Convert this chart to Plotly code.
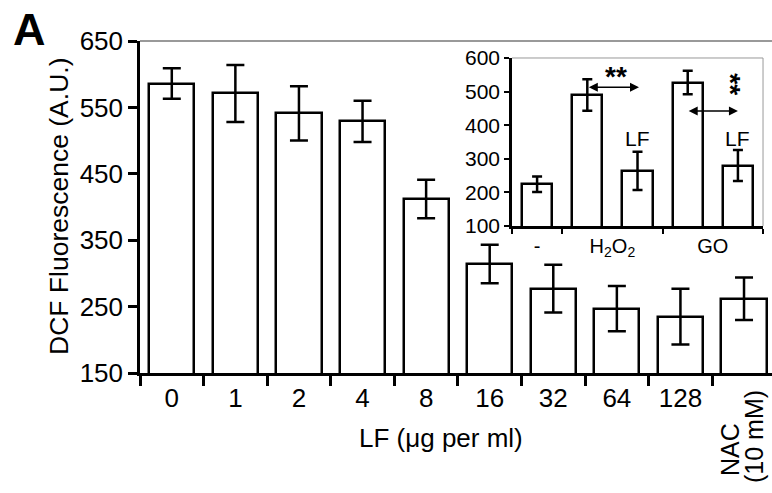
import plotly.graph_objects as go

# ---- data ----
lf_labels = ["0", "1", "2", "4", "8", "16", "32", "64", "128", "NAC"]
lf_means = [586, 571, 541, 529, 412, 314, 277, 247, 235, 262]
lf_err = [23, 43, 41, 31, 29, 29, 36, 34, 42, 32]
nac_lines = ["NAC", "(10 mM)"]

inset_bars = ["-", "H2O2", "H2O2+LF", "GO", "GO+LF"]
inset_group_of_bar = [0, 1, 1, 2, 2]
inset_groups = ["-", "H<sub>2</sub>O<sub>2</sub>", "GO"]
inset_means = [224, 490, 264, 527, 280]
inset_err = [23, 47, 57, 35, 46]
inset_lf_marks = [2, 4]

y_main_ticks = [150, 250, 350, 450, 550, 650]
y_inset_ticks = [100, 200, 300, 400, 500, 600]

FONT = "Liberation Sans, Arial, sans-serif"
W, H = 772, 493
ML, MR, MT, MB = 140, 0, 41, 120
PW, PH = W - ML - MR, H - MT - MB


def px_x(x):
    return (x - ML) / PW


def px_y(y):
    return (H - MB - y) / PH


fig = go.Figure()

fig.add_trace(go.Bar(
    x=lf_labels, y=lf_means, width=0.71,
    marker=dict(color="white", line=dict(color="black", width=2.5)),
    error_y=dict(type="data", array=lf_err, color="black", thickness=2.5, width=9),
    xaxis="x", yaxis="y", showlegend=False,
))

inset_x = list(range(len(inset_bars)))
fig.add_trace(go.Bar(
    x=inset_x, y=inset_means, width=0.6,
    marker=dict(color="white", line=dict(color="black", width=2.5)),
    error_y=dict(type="data", array=inset_err, color="black", thickness=2.5, width=5),
    xaxis="x2", yaxis="y2", showlegend=False,
))

# group centers and boundaries for inset
centers = []
bounds = [-0.5]
for g in range(len(inset_groups)):
    xs = [x for x, gg in zip(inset_x, inset_group_of_bar) if gg == g]
    centers.append(sum(xs) / len(xs))
    bounds.append(max(xs) + 0.5)

tickvals_main = lf_labels
ticktext_main = lf_labels[:-1] + [" "]

fig.update_layout(
    width=W, height=H,
    margin=dict(l=ML, r=MR, t=MT, b=MB),
    paper_bgcolor="white", plot_bgcolor="white",
    font=dict(family=FONT, color="black"),
    bargap=0,
    xaxis=dict(
        type="category", range=[-0.5, 9.44], domain=[0, 1],
        tickmode="array", tickvals=tickvals_main, ticktext=ticktext_main,
        tickson="boundaries", ticks="outside", ticklen=10, tickwidth=2.5, tickcolor="black",
        showline=True, linecolor="black", linewidth=2.5,
        showgrid=False, zeroline=False,
        tickfont=dict(size=26, family=FONT, color="black"),
    ),
    yaxis=dict(
        range=[150, 650], domain=[0, 1],
        tickmode="array", tickvals=y_main_ticks,
        ticks="outside", ticklen=9, tickwidth=2.5, tickcolor="black",
        showline=True, linecolor="black", linewidth=2.5,
        showgrid=False, zeroline=False,
        tickfont=dict(size=26, family=FONT, color="black"),
    ),
    xaxis2=dict(
        anchor="y2", domain=[0.5886, 0.9858], range=[-0.5, 4.5],
        tickmode="array", tickvals=centers, ticktext=inset_groups, ticks="",
        minor=dict(tickmode="array", tickvals=bounds, ticks="outside", ticklen=5,
                   tickwidth=2, tickcolor="black"),
        showline=True, linecolor="black", linewidth=2.5,
        showgrid=False, zeroline=False,
        tickfont=dict(size=20, family=FONT, color="black"),
    ),
    yaxis2=dict(
        anchor="x2", domain=[0.4428, 0.9488], range=[100, 600],
        tickmode="array", tickvals=y_inset_ticks,
        ticks="outside", ticklen=5, tickwidth=2, tickcolor="black",
        showline=True, linecolor="black", linewidth=2.5,
        showgrid=False, zeroline=False,
        tickfont=dict(size=21, family=FONT, color="black"),
    ),
)

# thin grey frame lines
fig.add_shape(type="line", xref="paper", yref="paper", x0=0, x1=1, y0=1, y1=1,
              line=dict(color="#777777", width=1.5))
fig.add_shape(type="line", xref="x2 domain", yref="y2 domain", x0=0, x1=1, y0=1, y1=1,
              line=dict(color="#999999", width=1))
fig.add_shape(type="line", xref="x2 domain", yref="y2 domain", x0=1, x1=1, y0=0, y1=1,
              line=dict(color="#999999", width=1))

ann = []
# Panel letter
ann.append(dict(text="<b>A</b>", xref="paper", yref="paper", x=px_x(29), y=px_y(29),
                xanchor="center", yanchor="middle", showarrow=False,
                font=dict(size=45, family=FONT, color="black")))
# y title
ann.append(dict(text="DCF Fluorescence (A.U.)", xref="paper", yref="paper",
                x=px_x(59), y=px_y(207),
                textangle=-90, xanchor="center", yanchor="middle", showarrow=False,
                font=dict(size=26.5, family=FONT, color="black")))
# x title
ann.append(dict(text="LF (\u03bcg per ml)", xref="paper", yref="paper",
                x=px_x(441), y=px_y(438),
                xanchor="center", yanchor="middle", showarrow=False,
                font=dict(size=26, family=FONT, color="black")))
# NAC label (two rotated lines)
ann.append(dict(text=nac_lines[0], xref="x", yref="paper", x=lf_labels[-1],
                y=px_y(450), xshift=-14,
                textangle=-90, xanchor="center", yanchor="middle", showarrow=False,
                font=dict(size=25, family=FONT, color="black")))
ann.append(dict(text=nac_lines[1], xref="x", yref="paper", x=lf_labels[-1],
                y=px_y(437), xshift=10,
                textangle=-90, xanchor="center", yanchor="middle", showarrow=False,
                font=dict(size=25, family=FONT, color="black")))
# LF labels in inset
for i in inset_lf_marks:
    ann.append(dict(text="LF", xref="x2", yref="y2", x=inset_x[i], y=360,
                    showarrow=False, xanchor="center", yanchor="middle",
                    font=dict(size=21, family=FONT, color="black")))
# double arrows
ann.append(dict(text="", xref="x2", yref="y2", axref="x2", ayref="y2",
                x=2.03, y=513, ax=1.0, ay=513, showarrow=True,
                arrowhead=2, arrowside="end+start", arrowwidth=1.5, arrowsize=1.2,
                arrowcolor="black"))
ann.append(dict(text="", xref="x2", yref="y2", axref="x2", ayref="y2",
                x=4.0, y=442, ax=2.99, ay=442, showarrow=True,
                arrowhead=2, arrowside="end+start", arrowwidth=1.5, arrowsize=1.2,
                arrowcolor="black"))
# significance stars
ann.append(dict(text="<b>**</b>", xref="x2", yref="y2", x=1.57, y=545,
                showarrow=False, xanchor="center", yanchor="middle",
                font=dict(size=28, family=FONT, color="black")))
ann.append(dict(text="<b>**</b>", xref="x2", yref="y2", x=3.86, y=522,
                showarrow=False, xanchor="center", yanchor="middle", textangle=90,
                font=dict(size=28, family=FONT, color="black")))

fig.update_layout(annotations=ann)

fig.write_html("out.html")
